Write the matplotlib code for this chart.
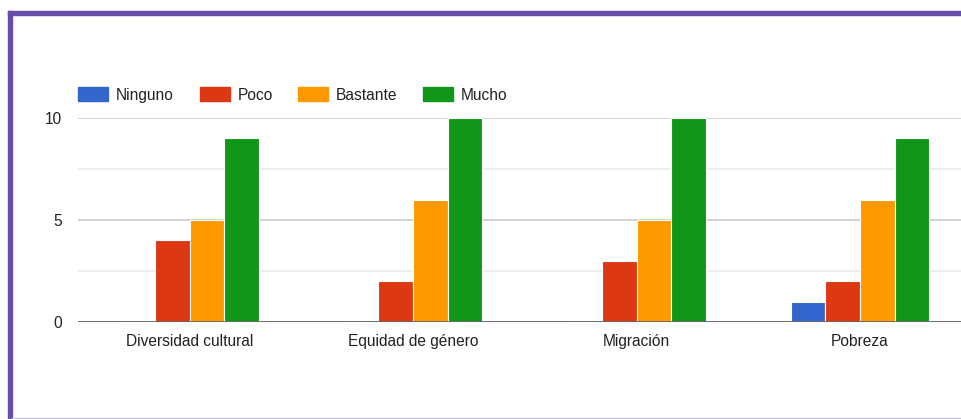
import numpy as np
import matplotlib.pyplot as plt
from matplotlib.patches import Rectangle
from matplotlib.lines import Line2D

plt.rcParams['font.family'] = ['Liberation Sans', 'DejaVu Sans']

categories = ["Diversidad cultural", "Equidad de género", "Migración", "Pobreza"]
series = ["Ninguno", "Poco", "Bastante", "Mucho"]
ninguno = [0, 0, 0, 1]
poco = [4, 2, 3, 2]
bastante = [5, 6, 5, 6]
mucho = [9, 10, 10, 9]
values = [ninguno, poco, bastante, mucho]
colors = ["#3366cc", "#dc3912", "#ff9900", "#109618"]

W, H = 962, 419
fs = 11.2
fig = plt.figure(figsize=(W / 100, H / 100), dpi=100)
ax = fig.add_axes([78 / W, 1 - 322 / H, (962 - 78) / W, (322 - 118) / H])

x = np.arange(len(categories))
bw = 0.155
for i, (name, vals, c) in enumerate(zip(series, values, colors)):
    ax.bar(x + (i - 1.5) * bw, vals, bw, color=c, edgecolor="white",
           linewidth=0.8, zorder=3)

ax.set_xlim(-0.5, 3.457)
ax.set_ylim(0, 10)
ax.set_yticks([0, 5, 10])
ax.set_yticks([2.5, 7.5], minor=True)
ax.grid(axis="y", which="major", color="#cccccc", linewidth=1.2, zorder=0)
ax.grid(axis="y", which="minor", color="#ebebeb", linewidth=1.2, zorder=0)
ax.axhline(0, color="#666666", linewidth=2, zorder=4)
for s in ax.spines.values():
    s.set_visible(False)
ax.tick_params(axis="both", which="both", length=0, labelsize=fs,
               labelcolor="#222222")
ax.tick_params(axis="y", pad=11.5)
ax.tick_params(axis="x", pad=17.3)
ax.set_xticks(x)
ax.set_xticklabels(categories)
for lab in ax.get_xticklabels():
    lab.set_va("baseline")

# legend drawn in pixel positions like the original
leg_x = [78, 200, 298, 423]
for lx, name, c in zip(leg_x, series, colors):
    fig.add_artist(Rectangle((lx / W, 1 - 101 / H), 30 / W, 14 / H,
                             transform=fig.transFigure, color=c))
    fig.text((lx + 38) / W, 1 - 100 / H, name, fontsize=fs, color="#222222",
             va="baseline", ha="left")

# purple frame
purple = "#674ea7"
fig.add_artist(Rectangle((8 / W, 0), 4 / W, 1 - 11 / H,
                         transform=fig.transFigure, color=purple))
fig.add_artist(Rectangle((8 / W, 1 - 15 / H), 1 - 8 / W, 4 / H,
                         transform=fig.transFigure, color=purple))
fig.add_artist(Line2D([12 / W, 1], [1.5 / H, 1.5 / H], transform=fig.transFigure,
                      color="#c5bfe0", linewidth=1))

fig.savefig("out.png", dpi=100)
